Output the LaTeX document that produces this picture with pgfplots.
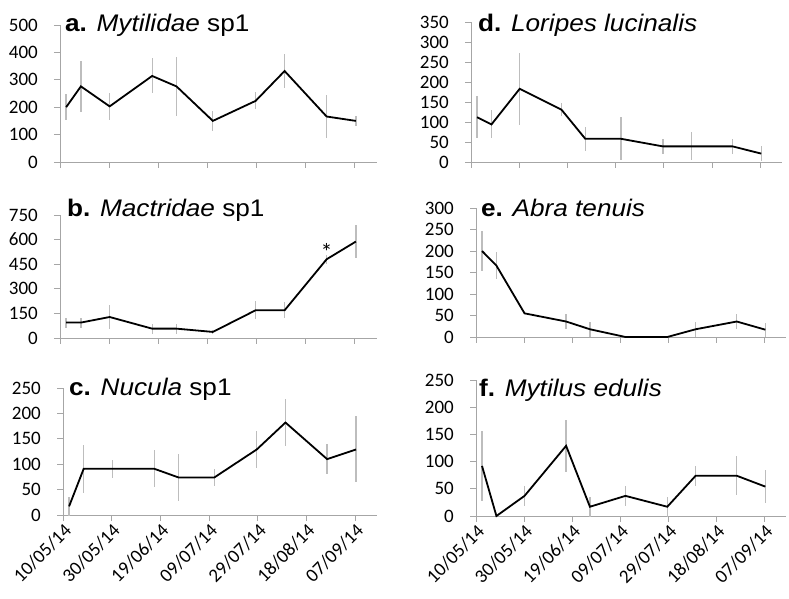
\documentclass[border=0pt]{standalone}
\usepackage{pgfplots}
\usepackage{pgfplotstable}
\pgfplotsset{compat=1.18}
\usepackage{fontspec}
\setmainfont{Carlito}
\newfontfamily\titlefont{Liberation Sans}[FakeStretch=1.09]
\definecolor{axgray}{HTML}{A6A6A6}
\definecolor{errgray}{HTML}{BDBDBD}

\pgfplotstableread{
x y e
2.5 200 48
8.5 276 93
20.2 203 48
37.5 314 64
47.4 276 108
62.2 150 36
79.6 223 31
91.4 332 63
108.5 166 80
120.4 150 18
}\dataA
\pgfplotstableread{
x y e
2.5 94 30
8.5 94 30
20.2 128 71
37.5 57 30
47.4 57 30
62.2 37 10
79.6 169 55
91.4 169 50
108.5 480 27
120.4 588 102
}\dataB
\pgfplotstableread{
x y e
2.5 17 18
8.5 91 47
20.2 91 18
37.5 91 36
47.4 74 47
62.2 74 17
79.6 129 36
91.4 182 47
108.5 110 30
120.4 129 65
}\dataC
\pgfplotstableread{
x y e
2.5 112 53
8.5 94 35
20.2 183 90
37.5 131 16
47.4 58 30
62.2 58 54
79.6 39 18
91.4 39 35
108.5 39 18
120.4 21 18
}\dataD
\pgfplotstableread{
x y e
2.5 200 47
8.5 166 31
20.2 55 0
37.5 36 18
47.4 18 18
62.2 0 0
79.6 0 0
91.4 18 18
108.5 36 18
120.4 17 16
}\dataE
\pgfplotstableread{
x y e
2.5 92 65
8.5 0 0
20.2 37 18
37.5 129 48
47.4 17 18
62.2 37 18
79.6 17 18
91.4 74 18
108.5 74 36
120.4 54 31
}\dataF

\pgfplotsset{
  panel/.style={
    scale only axis,
    axis lines=left,
    axis line style={draw=axgray, line width=0.9bp, -},
    every outer x axis line/.append style={-},
    every outer y axis line/.append style={-},
    tick style={draw=axgray, line width=0.9bp},
    tick align=outside,
    major tick length=6bp,
    xmin=0, xmax=129, ymin=0,
    xtick={0,20,...,120},
    xticklabels={},
    enlargelimits=false,
    clip=false,
    /pgf/number format/assume math mode=true,
    ticklabel style={font=\fontsize{19bp}{21bp}\selectfont},
    yticklabel style={inner sep=2bp, xshift=-14bp},
  },
  dates/.style={
    xticklabels={10/05/14,30/05/14,19/06/14,09/07/14,29/07/14,18/08/14,07/09/14},
    xticklabel style={rotate=45, anchor=north east, inner sep=1bp},
  },
}
\tikzset{ttl/.style={anchor=base west, inner sep=0pt, font=\titlefont\fontsize{24bp}{28bp}\selectfont}}

\newcommand\series[1]{%
  \addplot[draw=none, mark=none, forget plot, error bars/.cd, y dir=both, y explicit, error mark=none,
    error bar style={draw=errgray, line width=1.3bp}] table[x=x, y=y, y error=e] {#1};
  \addplot[black, line width=1.8bp, mark=none] table[x=x, y=y] {#1};
}

\begin{document}
\begin{tikzpicture}
\useasboundingbox (0,0) rectangle (789bp,599bp);

% a
\begin{axis}[panel, at={(60bp,437bp)}, anchor=south west, width=317bp, height=137bp,
  ymax=500, ytick={0,100,...,500}]
\series{\dataA}
\node[ttl, xshift=5bp, yshift=-7bp] at (rel axis cs:0,1) {\textbf{a.} \textit{Mytilidae} sp1};
\end{axis}

% b
\begin{axis}[panel, at={(60bp,261bp)}, anchor=south west, width=317bp, height=123bp,
  ymax=750, ytick={0,150,...,750}]
\series{\dataB}
\node[anchor=base, inner sep=0pt, font=\fontsize{24bp}{26bp}\selectfont] at (axis cs:108.5,470) {*};
\node[ttl, xshift=7bp, yshift=-2bp] at (rel axis cs:0,1) {\textbf{b.} \textit{Mactridae} sp1};
\end{axis}

% c
\begin{axis}[panel, dates, at={(63bp,84bp)}, anchor=south west, width=314bp, height=127bp,
  ymax=250, ytick={0,50,...,250}]
\series{\dataC}
\node[ttl, xshift=6bp, yshift=-8bp] at (rel axis cs:0,1) {\textbf{c.} \textit{Nucula} sp1};
\end{axis}

% d
\begin{axis}[panel, at={(471bp,437bp)}, anchor=south west, width=311bp, height=140bp,
  ymax=350, ytick={0,50,...,350}]
\series{\dataD}
\node[ttl, xshift=7bp, yshift=-10bp] at (rel axis cs:0,1) {\textbf{d.} \textit{Loripes lucinalis}};
\end{axis}

% e
\begin{axis}[panel, at={(476bp,262bp)}, anchor=south west, width=310bp, height=129bp,
  ymax=300, ytick={0,50,...,300}]
\series{\dataE}
\node[ttl, xshift=5bp, yshift=-9bp] at (rel axis cs:0,1) {\textbf{e.} \textit{Abra tenuis}};
\end{axis}

% f
\begin{axis}[panel, dates, at={(476bp,83bp)}, anchor=south west, width=310bp, height=136bp,
  ymax=250, ytick={0,50,...,250}]
\series{\dataF}
\node[ttl, xshift=3bp, yshift=-16bp] at (rel axis cs:0,1) {\textbf{f.} \textit{Mytilus edulis}};
\end{axis}
\end{tikzpicture}
\end{document}
